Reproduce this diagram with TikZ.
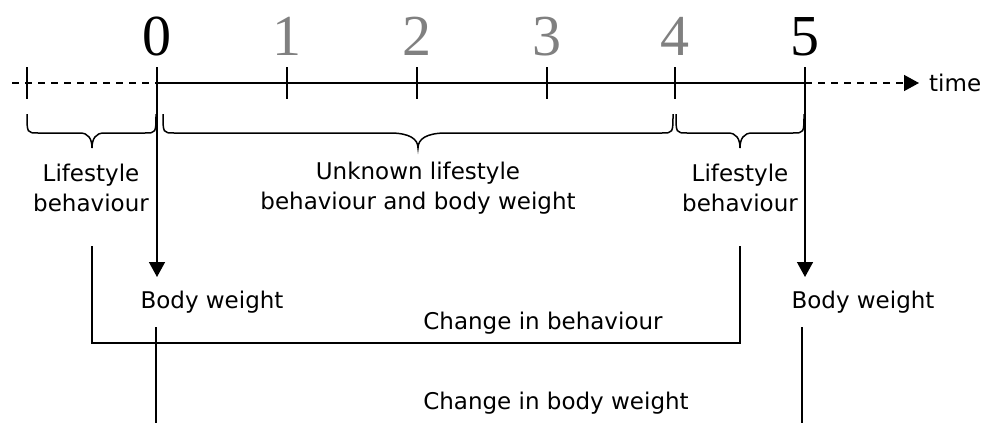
\documentclass[tikz,border=0pt]{standalone}
\usepackage{fontspec}
\setmainfont{DejaVu Sans}
\newfontfamily\numfont{Liberation Serif}
\usetikzlibrary{arrows.meta}
\definecolor{numgray}{RGB}{128,128,128}

% curly brace hanging below the time line: #1 left end, #2 right end, #3 tip x, #4 tip flare
\newcommand\curlybrace[4]{%
  \draw[bracestyle] (#1,114) .. controls (#1,133) and (#1,133) .. ({#1+11},133)
    -- ({#3-#4},133) .. controls ({#3-0.3*#4},133) and (#3,139) .. (#3,148)
    .. controls (#3,139) and ({#3+0.3*#4},133) .. ({#3+#4},133)
    -- ({#2-11},133) .. controls (#2,133) and (#2,133) .. (#2,114);}

\begin{document}
\begin{tikzpicture}[x=1pt,y=-1pt,
  axis/.style={line width=1.5pt},
  tickmark/.style={line width=1.5pt},
  bracestyle/.style={line width=1.5pt},
  link/.style={line width=1.4pt},
  tip/.style={-{Triangle[width=16pt,length=15pt]}},
  arrowlink/.style={line width=1.5pt,tip},
  label/.style={font=\fontsize{23}{30}\selectfont, align=center, inner sep=0pt},
  num/.style={font=\numfont\fontsize{58}{58}\selectfont, anchor=base, inner sep=0pt}]
\useasboundingbox (0,0) rectangle (987,423);

% time line
\coordinate (start) at (12,83);
\coordinate (tm) at (27,83);
\coordinate (t0) at (157,83);
\coordinate (t1) at (287,83);
\coordinate (t2) at (417,83);
\coordinate (t3) at (547,83);
\coordinate (t4) at (675,83);
\coordinate (t5) at (805,83);
\coordinate (tend) at (919,83);
\node[label, anchor=west] (time) at (929,83) {time};

\draw[axis, dash pattern=on 7pt off 6pt] (start) -- (t0);
\draw[axis] (t0) -- (t5);
\draw[axis, dash pattern=on 7pt off 6pt, tip] (t5) -- (tend);

% tick marks
\foreach \t in {tm,t1,t2,t3,t4}
  \draw[tickmark] ([yshift=16pt]\t) -- ([yshift=-16pt]\t);

% time points
\node[num] (n0) at (157,55) {0};
\node[num, text=numgray] (n1) at (287,55) {1};
\node[num, text=numgray] (n2) at (417,55) {2};
\node[num, text=numgray] (n3) at (547,55) {3};
\node[num, text=numgray] (n4) at (675,55) {4};
\node[num] (n5) at (805,55) {5};

% braces
\curlybrace{27}{156}{92}{12}
\curlybrace{163}{673}{418}{28}
\curlybrace{676}{804}{740}{12}

% period labels
\node[label] (lsA) at (91,188) {Lifestyle\\behaviour};
\node[label] (unk) at (418,188) {Unknown lifestyle\\behaviour and body weight};
\node[label] (lsB) at (740,188) {Lifestyle\\behaviour};

% measured body weight
\node[label] (bwA) at (212,302) {Body weight};
\node[label] (bwB) at (863,302) {Body weight};
\coordinate (a0) at (157,277);
\coordinate (a5) at (805,277);
\draw[arrowlink] ([yshift=16pt]t0) -- (a0);
\draw[arrowlink] ([yshift=16pt]t5) -- (a5);

% change in behaviour bracket
\coordinate (cbA) at (92,246);
\coordinate (cbB) at (740,246);
\coordinate (cbLevel) at (0,343);
\draw[link] (cbA) -- (cbA |- cbLevel) -- (cbB |- cbLevel) -- (cbB);
\node[label] (cb) at (543,323) {Change in behaviour};

% change in body weight bracket
\coordinate (wA) at (156,327);
\coordinate (wB) at (802,327);
\coordinate (wAend) at (156,423);
\coordinate (wBend) at (802,423);
\draw[link] (wA) -- (wAend);
\draw[link] (wB) -- (wBend);
\node[label] (cw) at (556,403) {Change in body weight};
\end{tikzpicture}
\end{document}
